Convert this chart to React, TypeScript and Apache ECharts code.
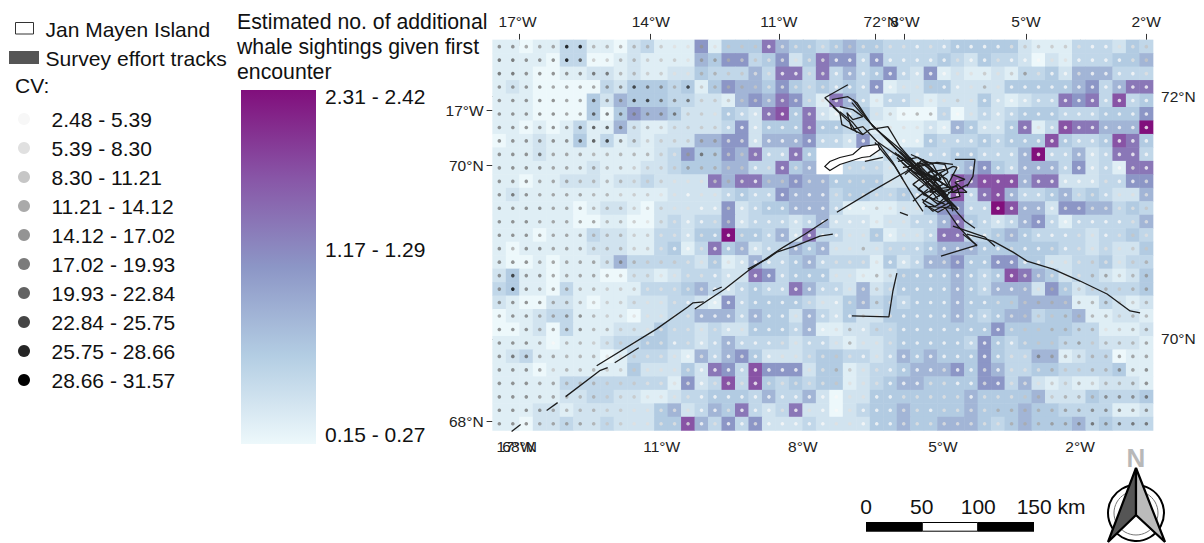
import React, { useEffect, useRef } from "react";
import * as echarts from "echarts";

const FONT = '"Liberation Sans", Arial, sans-serif';

// Class level of each map cell, west to east, north to south ("-" = no data)
const heatLevels = [
  "11011 33110 23111 61444 75443 45443 33334 44442 11133 3243",
  "11110 33001 21111 54663 46247 66363 33343 24332 02133 3445",
  "11100 11221 21122 43335 37737 35346 32612 11213 34255 5333",
  "12100 00032 44434 14655 46434 34361 22442 22244 44456 3577",
  "11100 00425 44433 22156 57631 75313 32122 24212 33767 3834",
  "11100 00404 65542 22432 78472 13421 00030 23234 44333 4446",
  "11010 13115 21122 22362 44474 43311 11215 42247 13877 5559",
  "01121 14131 21222 55662 55563 32621 11433 34344 48433 4874",
  "11121 11111 11236 44657 3374- ---13 33334 43335 93352 3773",
  "11111 11211 12234 44553 3745- -3332 22334 56435 55362 3177",
  "11011 22212 23222 27577 55655 44442 22338 78885 77222 3366",
  "12111 11111 11122 22343 36555 34433 43338 37853 34534 3225",
  "11111 10122 10222 22623 44555 31111 22466 33985 52665 5343",
  "11111 10011 00232 33623 33235 22212 23357 43235 63133 3335",
  "11101 11322 11332 44944 35273 32241 22377 33454 33332 3343",
  "10111 11222 11341 37452 33545 22223 33455 54444 44332 3224",
  "10010 11125 33333 24125 33453 33314 23556 44664 42233 4233",
  "24110 11100 22123 33227 63444 22112 44445 43487 54233 2124",
  "34110 31111 13334 53234 33753 32523 44445 43555 26423 3334",
  "21002 21011 22233 21634 44432 24534 34445 44445 55511 3212",
  "01123 31111 02233 55535 44253 24224 44445 43455 34451 1221",
  "00120 31112 22433 23224 44351 12233 44444 44644 44433 1112",
  "11110 11123 34433 23533 33233 21223 44444 36434 44333 2221",
  "12311 11101 33321 53564 22234 43323 54544 46433 55123 3011",
  "11101 11111 42224 27638 66624 41233 45556 46533 44333 3411",
  "11111 33333 33316 23838 43434 41234 55444 46635 21211 2221",
  "11111 22332 21123 34443 53352 02244 44444 54444 52224 3334",
  "11122 12222 22452 35473 23722 02344 54444 54445 44333 3112",
  "11022 32232 22448 53636 22232 22244 54455 54345 44453 4333",
];
// Estimated additional sightings for each level
const heatLevelValues = [0.21, 0.34, 0.47, 0.62, 0.77, 0.99, 1.29, 1.55, 1.85, 2.37];

// CV class of the dot in each map cell
const cvLevels = [
  "55444 99333 33211 41222 01111 12111 10100 00012 22210 0112",
  "66555 97223 32221 44322 11111 00000 00001 00100 01100 0012",
  "66555 55663 32211 33221 10011 00000 00001 12124 10010 0001",
  "55554 44455 86538 23332 11111 00000 11200 13100 00000 0000",
  "55555 44755 88656 22222 11111 00010 01112 10000 00000 0000",
  "55555 44766 55562 21000 00010 00012 23310 10000 00000 0000",
  "55555 57776 33222 22000 00010 00111 11000 00000 10000 0000",
  "55555 57785 42222 44110 00000 00000 00010 00000 00000 0000",
  "55564 44333 33214 64221 00000 00000 00000 00000 00000 0000",
  "55554 44433 22224 33220 10100 01111 10000 00000 00000 0010",
  "55544 43333 22211 12310 22111 01111 10000 00000 00000 1001",
  "56544 44332 22110 11000 00000 11111 10000 00000 00011 0111",
  "55554 44333 22211 00200 00000 00021 11000 00000 00111 1112",
  "55544 44433 21210 01200 00000 00011 10000 00000 00000 0011",
  "55544 44333 22110 10010 00000 01110 11000 00110 00011 0121",
  "53554 44333 22100 10010 00000 11311 10000 00010 01011 1122",
  "55544 44435 32221 11100 00000 11110 00011 00000 01112 1123",
  "58554 44432 22111 10010 00000 11132 10000 00001 11113 4234",
  "59544 43322 21111 10000 00000 01121 00000 00001 13122 3234",
  "55554 43222 21110 00000 00011 01131 00000 00122 33233 4223",
  "45544 55322 11111 00000 00100 00211 00000 00012 22333 3233",
  "55544 55332 21111 11010 00000 13021 00000 00012 23333 1234",
  "55540 33222 11101 00000 01100 13111 00000 00001 22342 3334",
  "56644 33311 21110 10010 01111 21010 00000 00011 54333 3444",
  "55542 33322 21111 00000 00011 32110 00010 01011 13223 3545",
  "55544 33322 21111 01110 11111 21110 00110 01011 12232 3345",
  "55544 33322 21111 00000 00000 01100 11111 01112 32333 5556",
  "55554 33322 11111 00100 01010 01000 11011 11333 33445 5545",
  "55544 44322 11111 01001 00000 11000 11111 11133 34456 5666",
];

const cvLabels = [
  "2.48 - 5.39", "5.39 - 8.30", "8.30 - 11.21", "11.21 - 14.12", "14.12 - 17.02",
  "17.02 - 19.93", "19.93 - 22.84", "22.84 - 25.75", "25.75 - 28.66", "28.66 - 31.57",
];
const cvGreys = ["#f7f7f7", "#e0e0e0", "#c6c6c6", "#aaaaaa", "#949494", "#7b7b7b", "#626262", "#454545", "#252525", "#000000"];
const bupu = ["#edf8fb", "#b3cde3", "#8c96c6", "#8856a7", "#810f7c"];
const scaleLabels = ["0", "50", "100", "150 km"];
const colorbarLabels = ["2.31 - 2.42", "1.17 - 1.29", "0.15 - 0.27"];
const titleLines = ["Estimated no. of additional", "whale sightings given first", "encounter"];

// Graticule ticks, in map units from the north-west corner of the map:
// tick position, label position, label
const topTicks: [number, number, string][] = [[27, 25, "17°W"], [158, 158, "14°W"], [286, 286, "11°W"], [382, 388, "72°N"], [411, 412, "8°W"], [533, 533, "5°W"], [653, 653, "2°W"]];
const bottomTicks: [number, number, string][] = [[23, 23, "17°W"], [169, 169, "11°W"], [310, 310, "8°W"], [450, 450, "5°W"], [587, 587, "2°W"]];
const bottomLatTicks: [number, number, string][] = [[27, 27, "68°N"]];
const leftTicks: [number, number, string][] = [[71, 71, "17°W"], [126, 126, "70°N"], [383, 383, "68°N"]];
const rightTicks: [number, number, string][] = [[57, 57, "72°N"], [300, 300, "70°N"]];

// Survey tracks, in the same map units
const tracks: number[][][] = [
  [[19, 393], [28, 386]],
  [[54, 372], [65, 364]],
  [[73, 358], [107, 332], [115, 329]],
  [[104, 327], [164, 290], [195, 268], [200, 264], [211, 263]],
  [[202, 270], [232, 250], [255, 232], [289, 209], [312, 195], [335, 180]],
  [[122, 324], [146, 309]],
  [[220, 252], [229, 248]],
  [[255, 230], [274, 220], [284, 213], [302, 207], [327, 197], [340, 195]],
  [[344, 173], [377, 153], [422, 127]],
  [[407, 173], [415, 176]],
  // north-west bundle
  [[355, 45], [332, 58], [347, 73], [349, 85], [370, 95], [377, 90], [395, 87], [407, 107], [427, 130]],
  [[339, 60], [355, 57], [364, 63], [380, 87], [404, 107], [427, 128]],
  [[347, 67], [360, 70], [370, 77], [360, 80], [354, 73], [359, 90], [370, 87], [384, 102], [410, 120], [427, 135]],
  [[360, 60], [377, 83], [397, 103], [417, 123], [427, 133]],
  [[359, 63], [374, 80], [394, 100], [414, 120]],
  [[385, 103], [400, 123], [410, 140]],
  [[347, 72], [360, 83], [370, 95]],
  [[340, 67], [357, 83], [364, 93]],
  [[382, 103], [402, 127], [422, 160], [430, 172]],
  // dense centre
  [[402, 113], [422, 130], [442, 150], [459, 167], [472, 182], [482, 189]],
  [[407, 112], [429, 130], [449, 153], [465, 170]],
  [[412, 117], [435, 140], [455, 157]],
  [[404, 118], [425, 137], [445, 153], [462, 168]],
  [[415, 120], [439, 143], [452, 153]],
  [[409, 123], [432, 143], [445, 160]],
  [[417, 118], [442, 147], [457, 160]],
  [[405, 115], [419, 125], [434, 142], [452, 158]],
  [[417, 125], [437, 137], [455, 157]],
  [[424, 123], [447, 147], [452, 160]],
  [[414, 130], [434, 147], [447, 157]],
  [[427, 123], [454, 140], [460, 153]],
  [[412, 135], [430, 120], [445, 135], [425, 150], [440, 160], [465, 145]],
  [[405, 122], [425, 118], [440, 130], [420, 145], [445, 165], [460, 150], [435, 135]],
  [[410, 128], [432, 125], [450, 145], [430, 155], [452, 165]],
  [[418, 115], [440, 125], [448, 140], [428, 140]],
  [[460, 125], [444, 123], [427, 127], [417, 130], [434, 140], [460, 127], [464, 128], [454, 147], [440, 137], [427, 133], [440, 150], [464, 147], [467, 157], [454, 160], [444, 150], [430, 163], [440, 172], [457, 163], [460, 172]],
  [[422, 125], [435, 123], [452, 125], [455, 133], [442, 142], [435, 133], [452, 130]],
  [[462, 120], [482, 120], [480, 137], [474, 147]],
  [[459, 135], [472, 140], [462, 143], [474, 153], [455, 153]],
  [[459, 153], [475, 145]],
  [[429, 160], [442, 167], [455, 160], [465, 170], [452, 168], [432, 167]],
  [[435, 167], [445, 173], [459, 165]],
  [[420, 162], [435, 150]],
  [[452, 168], [465, 187], [484, 207]],
  [[460, 187], [492, 198], [502, 207]],
  [[420, 133], [444, 138], [437, 153], [457, 150], [447, 133]],
  [[474, 195], [500, 202], [520, 213], [534, 222], [560, 230], [587, 242], [614, 255], [637, 272], [647, 274]],
  [[470, 195], [484, 206], [448, 217]],
  [[404, 234], [400, 252], [396, 278], [359, 277]],
  [[372, 122], [390, 118]],
];

const islandOutline = [
  [332, 127], [337, 122], [347, 118], [360, 115], [369, 107], [385, 105],
  [387, 110], [377, 117], [369, 118], [347, 125], [337, 131],
];

const GRID = { left: 492.6, top: 39.9, width: 660.5, height: 390.6 };
const parseRow = (s: string) => s.replace(/ /g, "").split("");
const heatCells = heatLevels.map(parseRow);
const cvCells = cvLevels.map(parseRow);
const colNames = heatCells[0].map((_, i) => String(i));
const rowNames = heatCells.map((_, i) => String(i));

const heatData: number[][] = [];
const dotData: any[] = [];
heatCells.forEach((row, r) =>
  row.forEach((cell, c) => {
    if (cell === "-") return;
    heatData.push([c, r, heatLevelValues[Number(cell)]]);
    dotData.push({ value: [c, r], itemStyle: { color: cvGreys[Number(cvCells[r][c])] } });
  })
);

const label = (text: string, x: number, y: number, extra: any = {}) => ({
  type: "text",
  silent: true,
  style: { text, x, y, fill: "#111", fontSize: 21, fontFamily: FONT, verticalAlign: "middle", align: "left", ...extra },
});

const valueAxis = (ticks: [number, number, string][], position: string, max: number, margin: number, extra: any) => ({
  type: "value",
  gridIndex: 1,
  position,
  min: 0,
  max,
  axisLine: { show: false },
  splitLine: { show: false },
  axisTick: { show: true, length: 6, customValues: ticks.map((t) => t[0]), lineStyle: { color: "#333", width: 1 } },
  axisLabel: {
    show: true,
    showMinLabel: true,
    showMaxLabel: true,
    hideOverlap: false,
    customValues: ticks.map((t) => t[1]),
    formatter: (v: number) => (ticks.find((t) => t[1] === v) || [0, 0, ""])[2],
    fontSize: 15.5,
    fontFamily: FONT,
    color: "#222",
    margin,
  },
  ...extra,
});

const legendGraphics: any[] = [
  { type: "rect", shape: { x: 15.5, y: 22.5, width: 18, height: 11.5 }, style: { fill: "#fff", stroke: "#333", lineWidth: 1 } },
  label("Jan Mayen Island", 45.5, 29),
  { type: "rect", shape: { x: 9, y: 51, width: 30, height: 13 }, style: { fill: "#555" } },
  label("Survey effort tracks", 45.5, 58, { fontSize: 21.1 }),
  label("CV:", 15, 85),
  ...cvLabels.flatMap((t, i) => [
    { type: "circle", shape: { cx: 24, cy: 119 + i * 29, r: 6 }, style: { fill: cvGreys[i] } },
    label(t, 51.5, 119 + i * 29),
  ]),
  ...titleLines.map((t, i) => label(t, 237, 22.3 + i * 24.7, { fontSize: 21.25 })),
  {
    type: "rect",
    shape: { x: 241, y: 90, width: 75, height: 354 },
    style: {
      fill: new echarts.graphic.LinearGradient(0, 0, 0, 1, bupu.map((color, i) => ({ offset: 1 - i / 4, color })).reverse()),
    },
  },
  label(colorbarLabels[0], 325, 96.5),
  label(colorbarLabels[1], 325, 249),
  label(colorbarLabels[2], 325, 434),
  // scale bar
  { type: "rect", shape: { x: 866, y: 522, width: 56.3, height: 9.7 }, style: { fill: "#000" } },
  { type: "rect", shape: { x: 922.3, y: 522.5, width: 55.4, height: 8.7 }, style: { fill: "#fff", stroke: "#000", lineWidth: 1 } },
  { type: "rect", shape: { x: 977.7, y: 522, width: 56.3, height: 9.7 }, style: { fill: "#000" } },
  label(scaleLabels[0], 866, 506, { align: "center" }),
  label(scaleLabels[1], 921.7, 506, { align: "center" }),
  label(scaleLabels[2], 978.3, 506, { align: "center" }),
  label(scaleLabels[3], 1016.7, 506),
  // north arrow
  { type: "circle", shape: { cx: 1136, cy: 513, r: 28 }, style: { fill: "#fff", stroke: "#000", lineWidth: 2 } },
  { type: "circle", shape: { cx: 1136, cy: 513, r: 22 }, style: { fill: "#fff", stroke: "#777", lineWidth: 1 } },
  {
    type: "polygon",
    shape: { points: [[1136, 468], [1136, 515], [1108, 542]] },
    style: { fill: "#555", stroke: "#000", lineWidth: 2.2, lineJoin: "miter" },
  },
  {
    type: "polygon",
    shape: { points: [[1136, 468], [1136, 515], [1165, 542]] },
    style: { fill: "#bbb", stroke: "#000", lineWidth: 2.2, lineJoin: "miter" },
  },
  label("N", 1136, 458, { align: "center", fill: "#b8b8b8", fontSize: 26, fontWeight: "bold" }),
];

export default function App() {
  const ref = useRef<HTMLDivElement>(null);
  useEffect(() => {
    const chart = echarts.init(ref.current!, undefined, { renderer: "svg" });
    chart.setOption({
      animation: false,
      backgroundColor: "#fff",
      grid: [
        { ...GRID, containLabel: false },
        { ...GRID, containLabel: false },
        { ...GRID, containLabel: false },
      ],
      xAxis: [
        { type: "category", gridIndex: 0, data: colNames, show: false },
        valueAxis(topTicks, "top", 660, 8, { offset: 2 }),
        valueAxis(bottomTicks, "bottom", 660, 6, { offset: 2 }),
        valueAxis(bottomLatTicks, "bottom", 660, 6, { offset: 2, gridIndex: 2 }),
      ],
      yAxis: [
        { type: "category", gridIndex: 0, data: rowNames, show: false, inverse: true },
        valueAxis(leftTicks, "left", 392, 8, { inverse: true, offset: 1 }),
        valueAxis(rightTicks, "right", 392, 8, { inverse: true, offset: 0 }),
        { type: "value", gridIndex: 2, show: false, min: 0, max: 392, inverse: true },
      ],
      visualMap: {
        show: false,
        seriesIndex: 0,
        min: 0.21,
        max: 2.37,
        dimension: 2,
        inRange: { color: bupu },
      },
      series: [
        { type: "heatmap", xAxisIndex: 0, yAxisIndex: 0, data: heatData, progressive: 0, emphasis: { disabled: true } },
        {
          type: "scatter",
          xAxisIndex: 0,
          yAxisIndex: 0,
          data: dotData,
          symbol: "circle",
          symbolSize: 3.6,
          silent: true,
          large: false,
          progressive: 0,
          z: 3,
        },
        ...tracks.map((t) => ({
          type: "line",
          name: "Survey effort tracks",
          xAxisIndex: 2,
          yAxisIndex: 1,
          data: t,
          symbol: "none",
          silent: true,
          lineStyle: { color: "#1c1c1c", width: 1.3 },
          clip: false,
          z: 5,
        })),
        {
          type: "custom",
          name: "Jan Mayen Island",
          xAxisIndex: 2,
          yAxisIndex: 1,
          data: [[350, 118]],
          silent: true,
          z: 6,
          renderItem: (_: any, api: any) => ({
            type: "polygon",
            shape: { points: islandOutline.map((p) => api.coord(p)) },
            style: { fill: "#fff", stroke: "#111", lineWidth: 1.2 },
          }),
        },
      ],
      graphic: { elements: legendGraphics },
    });
    return () => chart.dispose();
  }, []);
  return <div ref={ref} style={{ position: "fixed", left: 0, top: 0, width: 1204, height: 543, overflow: "hidden" }} />;
}
